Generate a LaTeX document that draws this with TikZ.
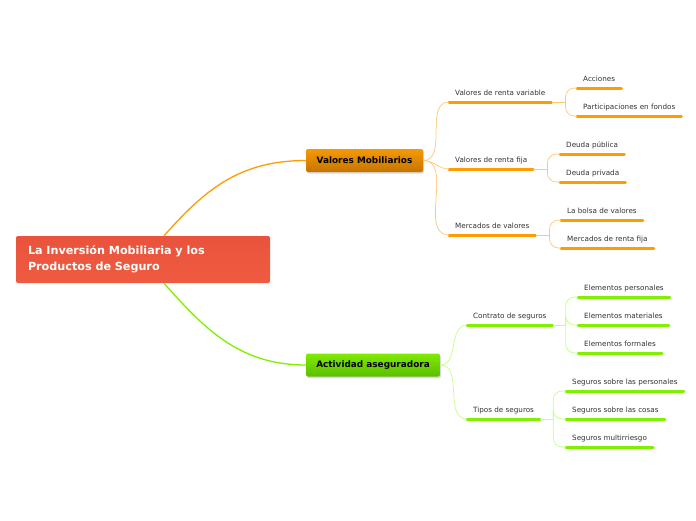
\documentclass[tikz,border=0pt]{standalone}
\usepackage{fontspec}
\setmainfont{DejaVu Sans}
\usetikzlibrary{shadows, backgrounds}

\definecolor{rootred}{HTML}{E9533D}
\definecolor{rootlight}{HTML}{EF5B40}
\definecolor{vmorange}{HTML}{F59A00}
\definecolor{vmdark}{HTML}{C67400}
\definecolor{aagreen}{HTML}{80EA00}
\definecolor{aadark}{HTML}{5CBE00}
\definecolor{orangebarc}{HTML}{FF9C00}
\definecolor{orangethin}{HTML}{FFC873}
\definecolor{greenbarc}{HTML}{80F000}
\definecolor{greenthin}{HTML}{C4FF85}
\definecolor{leaftext}{HTML}{333333}

\tikzstyle{rootbox} = [rounded corners=2pt, top color=rootred, bottom color=rootlight,
    minimum width=254pt, minimum height=47pt, text width=230pt, inner xsep=12pt,
    align=left, text=white, font=\fontsize{11.2}{16}\selectfont\bfseries]
\tikzstyle{mainbox} = [rounded corners=2pt, minimum height=23pt,
    font=\fontsize{8.9}{10}\selectfont\bfseries,
    drop shadow={shadow xshift=1pt, shadow yshift=-1.5pt, opacity=0.3}]
\tikzstyle{leaf} = [anchor=south west, inner xsep=6pt, inner ysep=4pt,
    text height=5pt, text depth=2pt, text=leaftext,
    font=\fontsize{7.2}{8}\selectfont]
\tikzstyle{orangebar} = [line width=3pt, line cap=round, orangebarc]
\tikzstyle{greenbar} = [line width=3pt, line cap=round, greenbarc]
\tikzstyle{orangelink} = [line width=0.7pt, orangethin]
\tikzstyle{greenlink} = [line width=0.7pt, greenthin]

\begin{document}
\begin{tikzpicture}[x=1pt, y=-1pt]
    \useasboundingbox (0,0) rectangle (696,520);

    % central topic and the two main branches
    \node[rootbox] (root) at (143,259.5) {La Inversión Mobiliaria y los\\Productos de Seguro};
    \node[mainbox, top color=vmorange, bottom color=vmdark, minimum width=117pt] (vm) at (364.5,160.5) {Valores Mobiliarios};
    \node[mainbox, top color=aagreen, bottom color=aadark, minimum width=134pt] (aa) at (373,365) {Actividad aseguradora};

    % Valores Mobiliarios
    \node[leaf] (rvar) at (449,102) {Valores de renta variable};
    \node[leaf] (rfija) at (449,169) {Valores de renta fija};
    \node[leaf] (merc) at (449,235) {Mercados de valores};
    \node[leaf] (acc) at (577,88) {Acciones};
    \node[leaf] (part) at (577,116) {Participaciones en fondos};
    \node[leaf] (dpub) at (560,154) {Deuda pública};
    \node[leaf] (dpriv) at (560,182) {Deuda privada};
    \node[leaf] (bolsa) at (561,220) {La bolsa de valores};
    \node[leaf] (mrf) at (561,248) {Mercados de renta fija};

    % Actividad aseguradora
    \node[leaf] (cont) at (467,325) {Contrato de seguros};
    \node[leaf] (tipos) at (467,419) {Tipos de seguros};
    \node[leaf] (epers) at (578,297) {Elementos personales};
    \node[leaf] (emat) at (578,325) {Elementos materiales};
    \node[leaf] (eform) at (578,353) {Elementos formales};
    \node[leaf] (spers) at (566,391) {Seguros sobre las personales};
    \node[leaf] (scos) at (566,419) {Seguros sobre las cosas};
    \node[leaf] (smul) at (566,447) {Seguros multirriesgo};

    % underlines
    \foreach \n in {rvar, rfija, merc, acc, part, dpub, dpriv, bolsa, mrf}
        \draw[orangebar] (\n.south west) -- (\n.south east);
    \foreach \n in {cont, tipos, epers, emat, eform, spers, scos, smul}
        \draw[greenbar] (\n.south west) -- (\n.south east);

    \begin{scope}[on background layer]
        \fill[white] (0,0) rectangle (696,520);
        \draw[line width=1.3pt, orangebarc] (root) .. controls +(62,-70) and +(-66,0) .. (vm.west);
        \draw[line width=1.3pt, greenbarc] (root) .. controls +(62,70) and +(-66,0) .. (aa.west);
    \end{scope}

    % links from main branches
    \foreach \n in {rvar, rfija, merc}
        \draw[orangelink] (vm.east) to[out=0, in=180] (\n.south west);
    \foreach \n in {cont, tipos}
        \draw[greenlink] (aa.east) to[out=0, in=180] (\n.south west);

    % links to the leaves
    \draw[orangelink] (rvar.south east) -- ++(14,0) coordinate (jrvar);
    \draw[orangelink] (rfija.south east) -- ++(14,0) coordinate (jrfija);
    \draw[orangelink] (merc.south east) -- ++(14,0) coordinate (jmerc);
    \draw[greenlink] (cont.south east) -- ++(13,0) coordinate (jcont);
    \draw[greenlink] (tipos.south east) -- ++(13,0) coordinate (jtipos);
    \begin{scope}[rounded corners=9pt]
        \foreach \j/\n in {jrvar/acc, jrvar/part, jrfija/dpub, jrfija/dpriv, jmerc/bolsa, jmerc/mrf}
            \draw[orangelink] (\j) |- (\n.south west);
        \foreach \j/\n in {jcont/epers, jcont/emat, jcont/eform, jtipos/spers, jtipos/scos, jtipos/smul}
            \draw[greenlink] (\j) |- (\n.south west);
    \end{scope}
\end{tikzpicture}
\end{document}
